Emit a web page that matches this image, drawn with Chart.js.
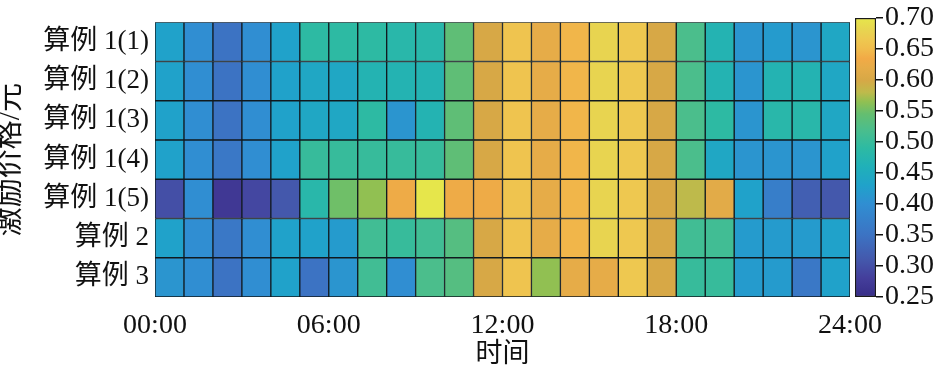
<!DOCTYPE html>
<html>
<head>
<meta charset="utf-8">
<script src="https://cdn.jsdelivr.net/npm/chart.js@4/dist/chart.umd.min.js"></script>
<style>
  html, body { margin: 0; padding: 0; background: #fff; }
  #wrap { position: relative; width: 941px; height: 371px; }
  #mainBox { position: absolute; left: 0; top: 0; width: 941px; height: 371px; }
  #cbBox { position: absolute; left: 850px; top: 0; width: 91px; height: 371px; }
</style>
</head>
<body>
<div id="wrap">
  <div id="mainBox"><canvas id="heat"></canvas></div>
  <div id="cbBox"><canvas id="cbar"></canvas></div>
</div>
<script>
// rows top to bottom
const rowLabels = ['算例 1(1)', '算例 1(2)', '算例 1(3)', '算例 1(4)', '算例 1(5)', '算例 2', '算例 3'];
const hourStarts = [0,1,2,3,4,5,6,7,8,9,10,11,12,13,14,15,16,17,18,19,20,21,22,23];

// incentive price per hour (元)
const case1_1 = [0.43,0.40,0.35,0.40,0.43,0.49,0.49,0.49,0.48,0.48,0.54,0.60,0.66,0.62,0.645,0.68,0.665,0.60,0.52,0.47,0.41,0.42,0.41,0.44];
const case1_2 = [0.43,0.40,0.35,0.40,0.43,0.44,0.44,0.47,0.47,0.47,0.54,0.60,0.66,0.62,0.645,0.68,0.665,0.60,0.52,0.47,0.41,0.47,0.47,0.44];
const case1_3 = [0.43,0.40,0.35,0.40,0.43,0.44,0.44,0.49,0.41,0.47,0.54,0.60,0.66,0.62,0.645,0.68,0.665,0.60,0.52,0.49,0.41,0.48,0.48,0.44];
const case1_4 = [0.43,0.40,0.36,0.40,0.43,0.50,0.50,0.50,0.50,0.50,0.54,0.60,0.66,0.62,0.645,0.68,0.665,0.60,0.52,0.44,0.41,0.41,0.41,0.43];
const case1_5 = [0.30,0.40,0.27,0.29,0.31,0.48,0.55,0.565,0.63,0.70,0.63,0.63,0.66,0.62,0.645,0.68,0.665,0.60,0.58,0.615,0.43,0.37,0.32,0.31];
const case2   = [0.43,0.40,0.36,0.40,0.43,0.43,0.42,0.51,0.50,0.51,0.53,0.60,0.66,0.62,0.645,0.68,0.665,0.60,0.51,0.51,0.42,0.42,0.42,0.43];
const case3   = [0.41,0.40,0.35,0.40,0.43,0.35,0.41,0.51,0.40,0.52,0.53,0.60,0.66,0.565,0.62,0.62,0.665,0.60,0.50,0.50,0.42,0.42,0.36,0.43];
const allRows = [case1_1, case1_2, case1_3, case1_4, case1_5, case2, case3];

const xTickHours = [0, 6, 12, 18, 24];
const xTickLabels = ['00:00', '06:00', '12:00', '18:00', '24:00'];
const cbTicks = [0.25,0.30,0.35,0.40,0.45,0.50,0.55,0.60,0.65,0.70];
const vMin = 0.25, vMax = 0.70;

// parula-like map as it looks in the figure
const cmap = [
  [0.25, [55,45,135]],
  [0.28, [68,62,155]],
  [0.31, [68,88,172]],
  [0.35, [60,115,195]],
  [0.40, [48,142,210]],
  [0.43, [32,162,202]],
  [0.46, [32,176,185]],
  [0.49, [45,186,163]],
  [0.52, [75,190,140]],
  [0.545, [100,190,112]],
  [0.565, [145,192,82]],
  [0.58, [190,186,75]],
  [0.60, [215,168,70]],
  [0.62, [230,172,72]],
  [0.635, [242,170,70]],
  [0.65, [240,188,76]],
  [0.665, [238,200,80]],
  [0.68, [232,212,80]],
  [0.70, [230,230,75]]
];

function colorFor(v) {
  if (v <= cmap[0][0]) return 'rgb(' + cmap[0][1].join(',') + ')';
  for (let i = 1; i < cmap.length; i++) {
    if (v <= cmap[i][0]) {
      const a = cmap[i-1], b = cmap[i];
      const t = (v - a[0]) / (b[0] - a[0]);
      const c = a[1].map((x, k) => Math.round(x + (b[1][k] - x) * t));
      return 'rgb(' + c.join(',') + ')';
    }
  }
  return 'rgb(' + cmap[cmap.length-1][1].join(',') + ')';
}

const serif = '"Liberation Serif", "Noto Sans CJK SC", serif';

const datasets = hourStarts.map(h => ({
  data: rowLabels.map(() => [h, h + 1]),
  backgroundColor: allRows.map(r => colorFor(r[h])),
  borderColor: '#111a1f',
  borderWidth: 1,
  borderSkipped: false,
  barPercentage: 1,
  categoryPercentage: 1
}));

new Chart(document.getElementById('heat'), {
  type: 'bar',
  data: { labels: rowLabels, datasets: datasets },
  options: {
    indexAxis: 'y',
    responsive: true,
    maintainAspectRatio: false,
    animation: false,
    layout: { padding: { top: 18, right: 91, left: 0, bottom: 0 } },
    plugins: { legend: { display: false }, tooltip: { enabled: false } },
    datasets: { bar: { grouped: false } },
    scales: {
      x: {
        type: 'linear',
        min: 0,
        max: 24,
        grid: { display: false, drawTicks: false },
        border: { display: false },
        afterBuildTicks: s => { s.ticks = xTickHours.map(v => ({ value: v })); },
        afterFit: s => { s.height = 74; },
        ticks: {
          autoSkip: false,
          maxRotation: 0,
          padding: 12,
          color: '#111',
          font: { family: serif, size: 28 },
          callback: (v, i) => xTickLabels[i]
        },
        title: {
          display: true,
          text: '时间',
          color: '#111',
          padding: { top: 0, bottom: 0 },
          font: { family: serif, size: 27 }
        }
      },
      y: {
        grid: { display: false, drawTicks: false },
        border: { display: false },
        afterFit: s => { s.width = 155; },
        ticks: {
          padding: 6,
          color: '#111',
          font: { family: serif, size: 27 }
        },
        title: {
          display: true,
          text: '激励价格/元',
          color: '#111',
          padding: { top: 0, bottom: 0 },
          font: { family: serif, size: 29, lineHeight: 0.8 }
        }
      }
    }
  }
});

new Chart(document.getElementById('cbar'), {
  type: 'bar',
  data: {
    labels: [''],
    datasets: [{
      data: [[vMin, vMax]],
      backgroundColor: c => {
        const chart = c.chart;
        if (!chart.chartArea) return '#888';
        const y = chart.scales.y;
        const g = chart.ctx.createLinearGradient(0, y.getPixelForValue(vMin), 0, y.getPixelForValue(vMax));
        cmap.forEach(s => g.addColorStop((s[0] - vMin) / (vMax - vMin), 'rgb(' + s[1].join(',') + ')'));
        return g;
      },
      borderColor: '#1a1a1a',
      borderWidth: 1.5,
      borderSkipped: false,
      barPercentage: 1,
      categoryPercentage: 1
    }]
  },
  options: {
    responsive: true,
    maintainAspectRatio: false,
    animation: false,
    layout: { padding: { top: 18, bottom: 74, left: 5, right: 0 } },
    plugins: { legend: { display: false }, tooltip: { enabled: false } },
    scales: {
      x: { display: false },
      y: {
        position: 'right',
        min: vMin,
        max: vMax,
        afterBuildTicks: s => { s.ticks = cbTicks.map(v => ({ value: v })); },
        afterFit: s => { s.width = 65; },
        grid: { drawOnChartArea: false, tickLength: 7, color: '#111', lineWidth: 1.5 },
        border: { display: false },
        ticks: {
          autoSkip: false,
          padding: 2,
          color: '#111',
          font: { family: serif, size: 28, lineHeight: 1 },
          callback: v => v.toFixed(2)
        }
      }
    }
  }
});
</script>
</body>
</html>
